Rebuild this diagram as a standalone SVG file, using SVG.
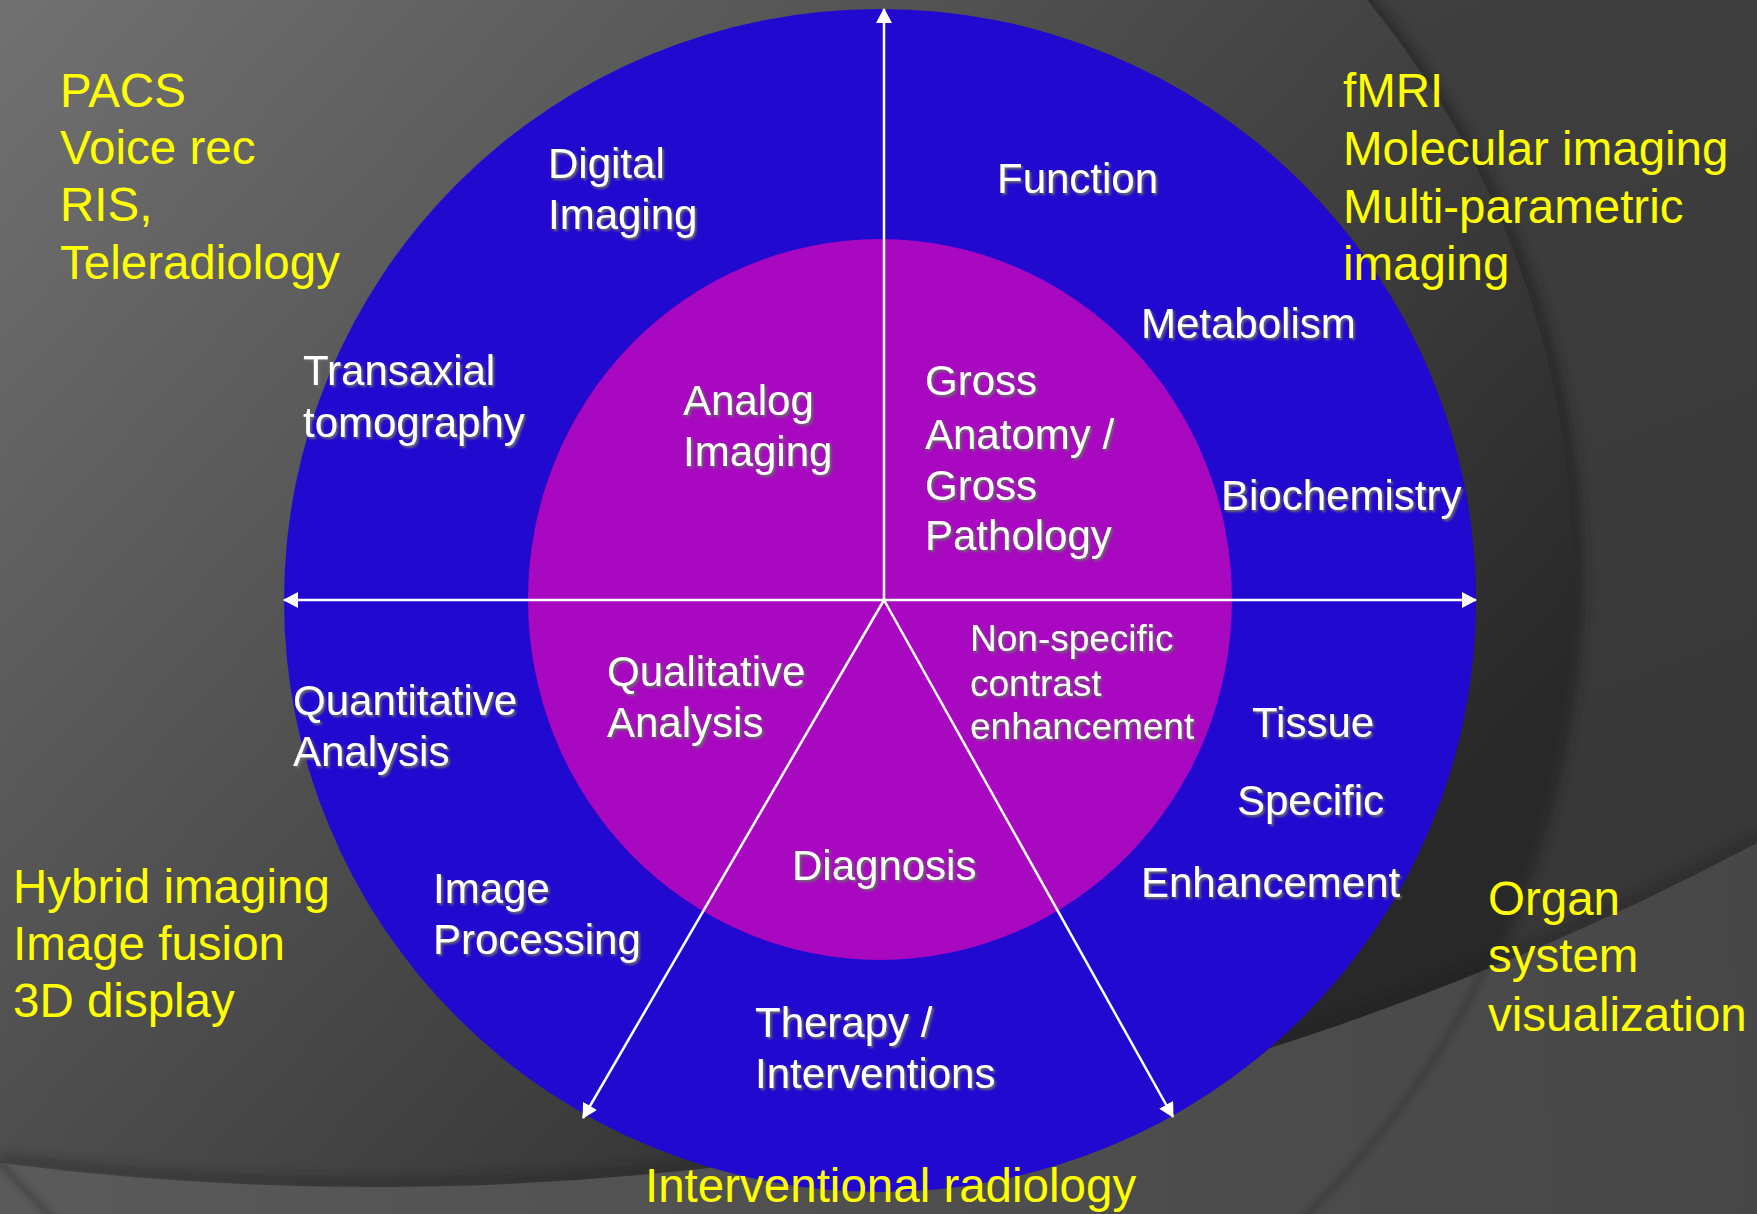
<svg xmlns="http://www.w3.org/2000/svg" width="1757" height="1214" viewBox="0 0 1757 1214">
  <defs>
    <linearGradient id="bgOuter" gradientUnits="userSpaceOnUse" x1="1300" y1="0" x2="1757" y2="1214">
      <stop offset="0" stop-color="#3f3f3f"/>
      <stop offset="1" stop-color="#353535"/>
    </linearGradient>
    <linearGradient id="discFill" gradientUnits="userSpaceOnUse" x1="0" y1="0" x2="1200" y2="1100">
      <stop offset="0" stop-color="#717171"/>
      <stop offset="1" stop-color="#282828"/>
    </linearGradient>
    <linearGradient id="bandFill" gradientUnits="userSpaceOnUse" x1="0" y1="1100" x2="1757" y2="1000">
      <stop offset="0" stop-color="#5a5a5a"/>
      <stop offset="0.5" stop-color="#4f4f4f"/>
      <stop offset="1" stop-color="#474747"/>
    </linearGradient>
    <filter id="soft" x="-20%" y="-20%" width="140%" height="140%">
      <feGaussianBlur stdDeviation="6"/>
    </filter>
    <filter id="softer" x="-20%" y="-20%" width="140%" height="140%">
      <feGaussianBlur stdDeviation="3"/>
    </filter>
    <filter id="textShadow" x="-10%" y="-30%" width="120%" height="160%">
      <feDropShadow dx="1.8" dy="2" stdDeviation="1.1" flood-color="#6a6a6a" flood-opacity="1"/>
    </filter>
    <marker id="arrow" viewBox="0 0 15 16" refX="14" refY="8" markerWidth="15" markerHeight="16" markerUnits="userSpaceOnUse" orient="auto-start-reverse">
      <path d="M0,0 L15,8 L0,16 Z" fill="#ffffff"/>
    </marker>
    <clipPath id="bandClip">
      <path d="M0,1163 A2945,2945 0 0,0 1757,843 L1757,1214 L0,1214 Z"/>
    </clipPath>
    <style>
      .lbl { font-family: "Liberation Sans", Arial, sans-serif; fill: #ffffff; font-size: 42px; filter: url(#textShadow); }
      .small { font-size: 37px; }
      .note { font-family: "Liberation Sans", Arial, sans-serif; fill: #ffff00; font-size: 47.5px; }
      .link { stroke: #ffffff; stroke-width: 2.5; fill: none; }
    </style>
  </defs>

  <!-- backdrop -->
  <g id="backdrop">
    <rect x="0" y="0" width="1757" height="1214" fill="url(#bgOuter)"/>
    <circle cx="684" cy="576" r="900" fill="#1e1e1e" opacity="0.55" filter="url(#soft)"/>
    <circle cx="676" cy="572" r="897" fill="url(#discFill)"/>
    <path d="M0,1159 A2945,2945 0 0,0 1757,839" fill="none" stroke="#1a1a1a" stroke-width="10" opacity="0.45" filter="url(#soft)"/>
    <path d="M0,1163 A2945,2945 0 0,0 1757,843 L1757,1214 L0,1214 Z" fill="url(#bandFill)"/>
    <g clip-path="url(#bandClip)">
      <circle cx="678" cy="572" r="899" fill="none" stroke="#2a2a2a" stroke-width="4" opacity="0.6" filter="url(#softer)"/>
    </g>
  </g>

  <!-- rings -->
  <g id="rings">
    <ellipse id="outer-ring" cx="880" cy="600.5" rx="596" ry="591.5" fill="#2109d0"/>
    <ellipse id="inner-ring" cx="880" cy="599.5" rx="352" ry="360.5" fill="#a808c0"/>
  </g>

  <!-- axes -->
  <g id="connectors">
    <line class="link" x1="884" y1="600" x2="884" y2="9" marker-end="url(#arrow)"/>
    <line class="link" x1="284" y1="600" x2="1476" y2="600" marker-start="url(#arrow)" marker-end="url(#arrow)"/>
    <line class="link" x1="884" y1="600" x2="583" y2="1118" marker-end="url(#arrow)"/>
    <line class="link" x1="884" y1="600" x2="1173" y2="1117" marker-end="url(#arrow)"/>
  </g>

  <!-- sector labels -->
  <g id="digital-imaging">
    <text class="lbl" x="548" y="178">Digital</text>
    <text class="lbl" x="548" y="229">Imaging</text>
  </g>
  <g id="transaxial-tomography">
    <text class="lbl" x="303" y="385">Transaxial</text>
    <text class="lbl" x="303" y="437">tomography</text>
  </g>
  <g id="analog-imaging">
    <text class="lbl" x="683" y="415">Analog</text>
    <text class="lbl" x="683" y="466">Imaging</text>
  </g>
  <g id="function">
    <text class="lbl" x="997" y="193">Function</text>
  </g>
  <g id="metabolism">
    <text class="lbl" x="1141" y="338">Metabolism</text>
  </g>
  <g id="gross-anatomy">
    <text class="lbl" x="925" y="395">Gross</text>
    <text class="lbl" x="925" y="449">Anatomy /</text>
    <text class="lbl" x="925" y="500">Gross</text>
    <text class="lbl" x="925" y="550">Pathology</text>
  </g>
  <g id="biochemistry">
    <text class="lbl" x="1221" y="510">Biochemistry</text>
  </g>
  <g id="quantitative-analysis">
    <text class="lbl" x="293" y="715">Quantitative</text>
    <text class="lbl" x="293" y="766">Analysis</text>
  </g>
  <g id="qualitative-analysis">
    <text class="lbl" x="607" y="686">Qualitative</text>
    <text class="lbl" x="607" y="737">Analysis</text>
  </g>
  <g id="diagnosis">
    <text class="lbl" x="792" y="880">Diagnosis</text>
  </g>
  <g id="image-processing">
    <text class="lbl" x="433" y="903">Image</text>
    <text class="lbl" x="433" y="954">Processing</text>
  </g>
  <g id="therapy">
    <text class="lbl" x="755" y="1037">Therapy /</text>
    <text class="lbl" x="755" y="1088">Interventions</text>
  </g>
  <g id="non-specific">
    <text class="lbl small" x="970" y="651">Non-specific</text>
    <text class="lbl small" x="970" y="696">contrast</text>
    <text class="lbl small" x="970" y="739">enhancement</text>
  </g>
  <g id="tissue-specific">
    <text class="lbl" x="1252" y="737">Tissue</text>
    <text class="lbl" x="1237" y="815">Specific</text>
    <text class="lbl" x="1141" y="897">Enhancement</text>
  </g>

  <!-- outer notes -->
  <g id="note-informatics">
    <text class="note" x="60" y="107">PACS</text>
    <text class="note" x="60" y="164">Voice rec</text>
    <text class="note" x="60" y="221">RIS,</text>
    <text class="note" x="60" y="279">Teleradiology</text>
  </g>
  <g id="note-molecular">
    <text class="note" x="1343" y="107">fMRI</text>
    <text class="note" x="1343" y="165">Molecular imaging</text>
    <text class="note" x="1343" y="223">Multi-parametric</text>
    <text class="note" x="1343" y="280">imaging</text>
  </g>
  <g id="note-hybrid">
    <text class="note" x="13" y="903">Hybrid imaging</text>
    <text class="note" x="13" y="960">Image fusion</text>
    <text class="note" x="13" y="1017">3D display</text>
  </g>
  <g id="note-organ">
    <text class="note" x="1488" y="915">Organ</text>
    <text class="note" x="1488" y="972">system</text>
    <text class="note" x="1488" y="1031">visualization</text>
  </g>
  <g id="note-interventional">
    <text class="note" x="645" y="1202">Interventional radiology</text>
  </g>
</svg>
